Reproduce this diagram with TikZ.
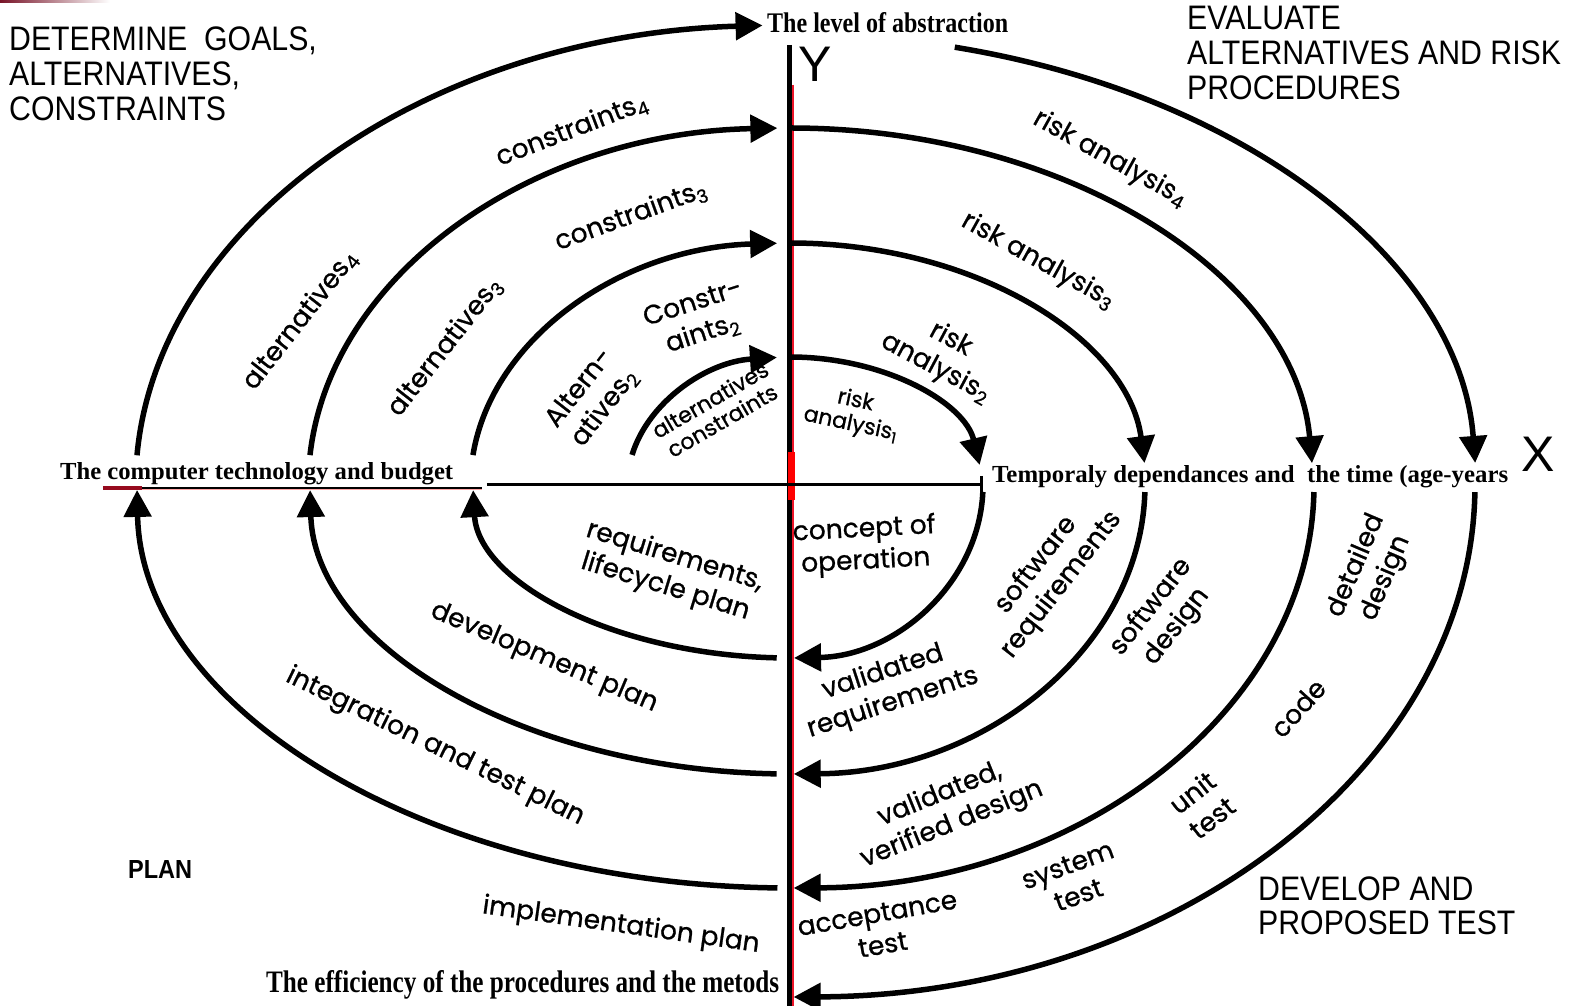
\documentclass[tikz,border=0pt]{standalone}
\usepackage{fontspec}
\usepackage{graphicx}
\setmainfont{Liberation Sans}
\newfontfamily\hand[FakeBold=0.8]{Poppins}
\newfontfamily\cond{Liberation Serif}
\usetikzlibrary{arrows.meta}

\definecolor{axisred}{RGB}{235,20,40}
\definecolor{deepred}{RGB}{150,10,30}
\definecolor{wine}{RGB}{120,20,40}

% horizontally narrowed sans heading text
\newcommand\narrow[1]{\scalebox{0.89}[1]{#1}}
% condensed serif caption stretched to a given width and height
\newcommand\fitbox[3]{\resizebox{#1pt}{#2pt}{\cond\bfseries #3}}
% one quarter of the spiral: x radius, y radius, start angle, end angle
\newcommand\quarter[4]{\draw[spiral] (#3:#1pt and #2pt) arc[start angle=#3, end angle=#4, x radius=#1pt, y radius=#2pt];}

\tikzset{
  spiral/.style={line width=5.5pt, -{Triangle[length=27pt,width=27pt]}},
  head/.style={anchor=base west, inner sep=0pt, font=\fontsize{34}{40}\selectfont},
  caption/.style={anchor=base west, inner sep=0pt},
  lab/.style={inner sep=0pt, align=center, font=\hand\fontsize{26.5}{32}\selectfont},
  smalllab/.style={inner sep=0pt, align=center, font=\hand\fontsize{22}{24}\selectfont},
}

\begin{document}
\begin{tikzpicture}[x=1pt,y=1pt]
% canvas, origin where the two axes cross
\fill[white] (-790,-521) rectangle (797,485);
\useasboundingbox (-790,-521) rectangle (797,485);
\shade[left color=wine,right color=white] (-790,482) rectangle (-680,485);

% vertical axis (level of abstraction)
\draw[line width=5pt] (-0.5,440) -- (-0.5,-521);
\draw[axisred,line width=2pt] (2.5,400) -- (2.5,-521);
\fill[red] (-2.5,33) rectangle (4.5,-15);

% horizontal axis (time)
\draw[line width=3pt,-{Bar[width=18pt]}] (-303,0) -- (193,0);
\draw[red!35,line width=1.2pt] (-687,-4.5) -- (-308,-4.5);
\draw[line width=1.8pt] (-687,-3) -- (-308,-3);
\draw[deepred,line width=4pt] (-687,-3) -- (-648,-3);

% spiral, upper left quadrant
\quarter{162.5}{128}{166.4}{94.6}
\quarter{319.5}{242}{172.9}{92.3}
\quarter{481.7}{357}{175.2}{91.5}
\quarter{654.4}{460}{176.3}{92.4}
% upper right quadrant
\quarter{192}{128}{90}{9}
\quarter{356}{242}{90}{5.2}
\quarter{523}{357}{90}{3.5}
\quarter{686}{451}{76.1}{2.8}
% lower right quadrant
\quarter{193}{173}{-2.3}{-88.8}
\quarter{355}{289}{-1.4}{-89.4}
\quarter{524}{403}{-1.0}{-89.6}
\quarter{685}{512}{-0.8}{-89.7}
% lower left quadrant
\quarter{317}{173}{-92.4}{-178.3}
\quarter{480}{289}{-91.6}{-179}
\quarter{653}{403}{-91.1}{-179.3}

% axis names
\node[caption] (abstr) at (-23,452) {\fitbox{241}{20}{The level of abstraction}};
\node[caption] (tech) at (-730,5) {\fitbox{393}{17}{The computer technology and budget}};
\node[caption] (timeax) at (202,2) {\fitbox{516}{17}{Temporaly dependances and\ \ the time (age-years}};
\node[caption] (effic) at (-524,-507) {\fitbox{513}{22}{The efficiency of the procedures and the metods}};
\node[caption,font=\fontsize{50}{50}\selectfont] (ylet) at (8,403) {Y};
\node[caption,font=\fontsize{50}{50}\selectfont] (xlet) at (731,13) {X};

% quadrant headings
\node[head] (h1a) at (-781,434) {\narrow{DETERMINE\ \ GOALS,}};
\node[head] (h1b) at (-781,399) {\narrow{ALTERNATIVES,}};
\node[head] (h1c) at (-781,364) {\narrow{CONSTRAINTS}};
\node[head] (h2a) at (397,455) {\narrow{EVALUATE}};
\node[head] (h2b) at (397,420) {\narrow{ALTERNATIVES AND RISK}};
\node[head] (h2c) at (397,385) {\narrow{PROCEDURES}};
\node[head] (h3a) at (468,-415) {\narrow{DEVELOP AND}};
\node[head] (h3b) at (468,-449) {\narrow{PROPOSED TEST}};
\node[caption] (plan) at (-662,-393) {\resizebox{64pt}{18pt}{\bfseries PLAN}};

% labels along the upper left arcs
\node[lab,rotate=21] (c4) at (-218,355) {constraints\textsubscript{4}};
\node[lab,rotate=20] (c3) at (-159,269) {constraints\textsubscript{3}};
\node[lab,rotate=18] (c2) at (-92,166) {Constr-\\aints\textsubscript{2}};
\node[lab,rotate=52] (a2) at (-198,87) {Altern-\\atives\textsubscript{2}};
\node[smalllab,rotate=30] (ac) at (-74,75) {alternatives\\constraints};
\node[lab,rotate=52] (a3) at (-345,138) {alternatives\textsubscript{3}};
\node[lab,rotate=52] (a4) at (-490,165) {alternatives\textsubscript{4}};

% labels along the upper right arcs
\node[lab,rotate=-29] (r4) at (320,326) {risk analysis\textsubscript{4}};
\node[lab,rotate=-29] (r3) at (248,224) {risk analysis\textsubscript{3}};
\node[lab,rotate=-28] (r2) at (153,131) {risk\\analysis\textsubscript{2}};
\node[smalllab,rotate=-12] (r1) at (63,72) {risk\\analysis\textsubscript{1}};

% labels along the lower right arcs
\node[lab,rotate=3] (cop) at (75,-61) {concept of\\operation};
\node[lab,rotate=52] (sreq) at (259,-90) {software\\requirements};
\node[lab,rotate=18] (vreq) at (98,-203) {validated\\requirements};
\node[lab,rotate=52] (sdes) at (374,-132) {software\\design};
\node[lab,rotate=67] (ddes) at (581,-87) {detailed\\design};
\node[lab,rotate=48] (code) at (508,-223) {code};
\node[lab,rotate=22] (vver) at (156,-325) {validated,\\verified design};
\node[lab,rotate=38] (unit) at (412,-320) {unit\\test};
\node[lab,rotate=20] (syst) at (283,-395) {system\\test};
\node[lab,rotate=10] (acct) at (90,-444) {acceptance\\test};

% labels along the lower left arcs
\node[lab,rotate=-17] (rlp) at (-120,-87) {requirements,\\lifecycle plan};
\node[lab,rotate=-23] (dev) at (-246,-173) {development plan};
\node[lab,rotate=-26] (itp) at (-355,-262) {integration and test plan};
\node[lab,rotate=-8] (imp) at (-169,-441) {implementation plan};
\end{tikzpicture}
\end{document}
